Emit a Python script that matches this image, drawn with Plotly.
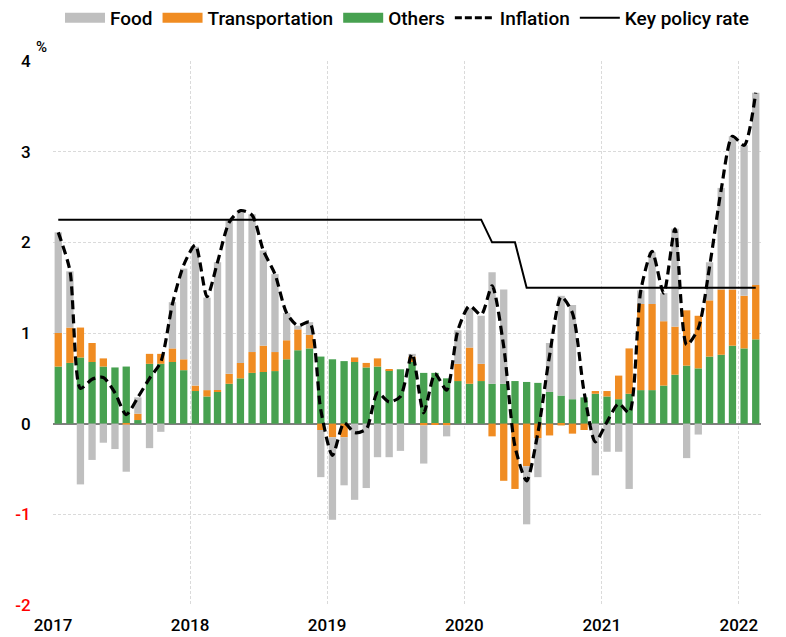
import plotly.graph_objects as go
import pandas as pd

# Monthly, Jan 2017 .. Feb 2022
months = [d.strftime("%Y-%m-15") for d in pd.date_range("2017-01-01", periods=62, freq="MS")]

others = [0.63, 0.67, 0.73, 0.68, 0.63, 0.62, 0.63, 0.04, 0.66, 0.66, 0.68, 0.59,
          0.36, 0.30, 0.35, 0.44, 0.50, 0.56, 0.57, 0.58, 0.71, 0.81, 0.83, 0.74,
          0.71, 0.69, 0.68, 0.62, 0.63, 0.59, 0.60, 0.68, 0.56, 0.56, 0.50, 0.47,
          0.44, 0.47, 0.44, 0.44, 0.47, 0.46, 0.45, 0.35, 0.31, 0.27, 0.29, 0.33,
          0.30, 0.27, 0.33, 0.37, 0.37, 0.42, 0.54, 0.64, 0.61, 0.74, 0.76, 0.86,
          0.83, 0.93]

transportation = [0.37, 0.39, 0.33, 0.21, 0.09, 0.00, -0.01, 0.07, 0.11, 0.11, 0.15, 0.12,
                  0.06, 0.07, 0.02, 0.11, 0.17, 0.23, 0.29, 0.21, 0.21, 0.23, 0.15, -0.07,
                  -0.15, -0.15, 0.05, 0.05, 0.09, 0.01, 0.00, 0.06, -0.02, -0.01, -0.02, 0.19,
                  0.40, 0.19, -0.14, -0.63, -0.72, -0.47, -0.16, -0.13, -0.02, -0.11, -0.07, 0.03,
                  0.06, 0.26, 0.50, 0.95, 0.95, 0.71, 0.53, 0.61, 0.58, 0.62, 0.72, 0.62,
                  0.58, 0.60]

food = [1.11, 0.62, -0.67, -0.40, -0.21, -0.28, -0.52, 0.18, -0.27, -0.09, 0.51, 1.00,
        1.53, 1.02, 1.41, 1.69, 1.67, 1.52, 1.05, 0.86, 0.30, 0.04, 0.14, -0.52,
        -0.91, -0.53, -0.84, -0.71, -0.37, -0.37, -0.30, 0.03, -0.42, 0.00, -0.12, 0.37,
        0.43, 0.53, 1.23, 1.04, 0.00, -0.64, -0.43, 0.54, 1.10, 1.04, 0.00, -0.57,
        -0.31, -0.31, -0.72, 0.15, 0.57, 0.31, 1.08, -0.38, -0.12, 0.42, 1.12, 1.69,
        1.66, 2.12]

inflation = [2.11, 1.69, 0.39, 0.49, 0.51, 0.34, 0.10, 0.29, 0.50, 0.68, 1.32, 1.75,
             1.97, 1.40, 1.78, 2.22, 2.35, 2.30, 1.91, 1.65, 1.22, 1.08, 1.12, 0.15,
             -0.35, 0.01, -0.10, -0.06, 0.34, 0.24, 0.30, 0.77, 0.12, 0.55, 0.37, 1.03,
             1.30, 1.20, 1.52, 0.85, -0.25, -0.63, -0.10, 0.75, 1.40, 1.22, 0.35, -0.20,
             0.02, 0.22, 0.12, 1.47, 1.90, 1.44, 2.15, 0.87, 1.05, 1.73, 2.58, 3.17,
             3.07, 3.65]

policy_rate = [2.25] * 38 + [2.0] * 3 + [1.5] * 21

year_ticks = ["2017-01-01", "2018-01-01", "2019-01-01", "2020-01-01", "2021-01-01", "2022-01-01"]
year_labels = ["2017", "2018", "2019", "2020", "2021", "2022"]
y_ticks = [4, 3, 2, 1, 0, -1, -2]
y_labels = ["4", "3", "2", "1", "0",
            '<span style="color:#FF0000">-1</span>', '<span style="color:#FF0000">-2</span>']

C_FOOD = "#BFBFBF"
C_TRANS = "#F08C22"
C_OTH = "#47A150"

FONT = "Roboto"
bar_w = 0.64 * 30.44 * 86400000

fig = go.Figure()
fig.add_trace(go.Bar(x=months, y=others, name="Others", marker=dict(color=C_OTH, line=dict(width=0)),
                     width=bar_w, showlegend=False))
fig.add_trace(go.Bar(x=months, y=transportation, name="Transportation", marker=dict(color=C_TRANS, line=dict(width=0)),
                     width=bar_w, showlegend=False))
fig.add_trace(go.Bar(x=months, y=food, name="Food", marker=dict(color=C_FOOD, line=dict(width=0)),
                     width=bar_w, showlegend=False))
fig.add_trace(go.Scatter(x=months, y=policy_rate, name="Key policy rate", mode="lines",
                         line=dict(color="#000000", width=2), showlegend=False))
fig.add_trace(go.Scatter(x=months, y=inflation, name="Inflation", mode="lines",
                         line=dict(color="#000000", width=3.2, dash="9px,5px", shape="spline", smoothing=0.7),
                         showlegend=False))

# legend entries
for nm, col, rank in [("Food", C_FOOD, 1), ("Transportation", C_TRANS, 2), ("Others", C_OTH, 3)]:
    fig.add_trace(go.Scatter(x=[None], y=[None], mode="lines", name=nm,
                             line=dict(color=col, width=10), legendrank=rank))
fig.add_trace(go.Scatter(x=[None], y=[None], mode="lines", name="Inflation",
                         line=dict(color="#000000", width=3, dash="7px,3px"), legendrank=4))
fig.add_trace(go.Scatter(x=[None], y=[None], mode="lines", name="Key policy rate",
                         line=dict(color="#000000", width=2), legendrank=5))

fig.update_layout(
    width=778, height=629,
    barmode="relative",
    paper_bgcolor="white", plot_bgcolor="white",
    margin=dict(l=45, r=25, t=53, b=32, autoexpand=False),
    font=dict(family=FONT, size=17, color="#000000"),
    legend=dict(orientation="h", x=0.5, xanchor="center", y=1.079, yanchor="middle",
                font=dict(family=FONT, size=19, color="#000000", weight=500), itemwidth=40,
                tracegroupgap=0),
    xaxis=dict(type="date", range=["2017-01-01", "2022-03-01"],
               tickvals=year_ticks, ticktext=year_labels,
               showgrid=True, gridcolor="#DADADA", griddash="3px,2px", gridwidth=1,
               ticks="outside", ticklen=5, tickcolor="rgba(0,0,0,0)",
               showline=False, zeroline=False,
               tickfont=dict(family=FONT, size=17, color="#000000", weight=500)),
    yaxis=dict(range=[-2, 4], tickvals=y_ticks, ticktext=y_labels,
               showgrid=True, gridcolor="#DADADA", griddash="3px,2px", gridwidth=1,
               zeroline=True, zerolinecolor="#808080", zerolinewidth=2,
               ticks="outside", ticklen=18, tickcolor="rgba(0,0,0,0)",
               showline=False,
               tickfont=dict(family=FONT, size=17, color="#000000", weight=500)),
    annotations=[dict(text="%", xref="paper", yref="paper", x=-0.016, y=1.026,
                      xanchor="center", yanchor="middle", showarrow=False,
                      font=dict(family=FONT, size=15, color="#000000", weight=500))],
)

fig.write_html("out.html")
